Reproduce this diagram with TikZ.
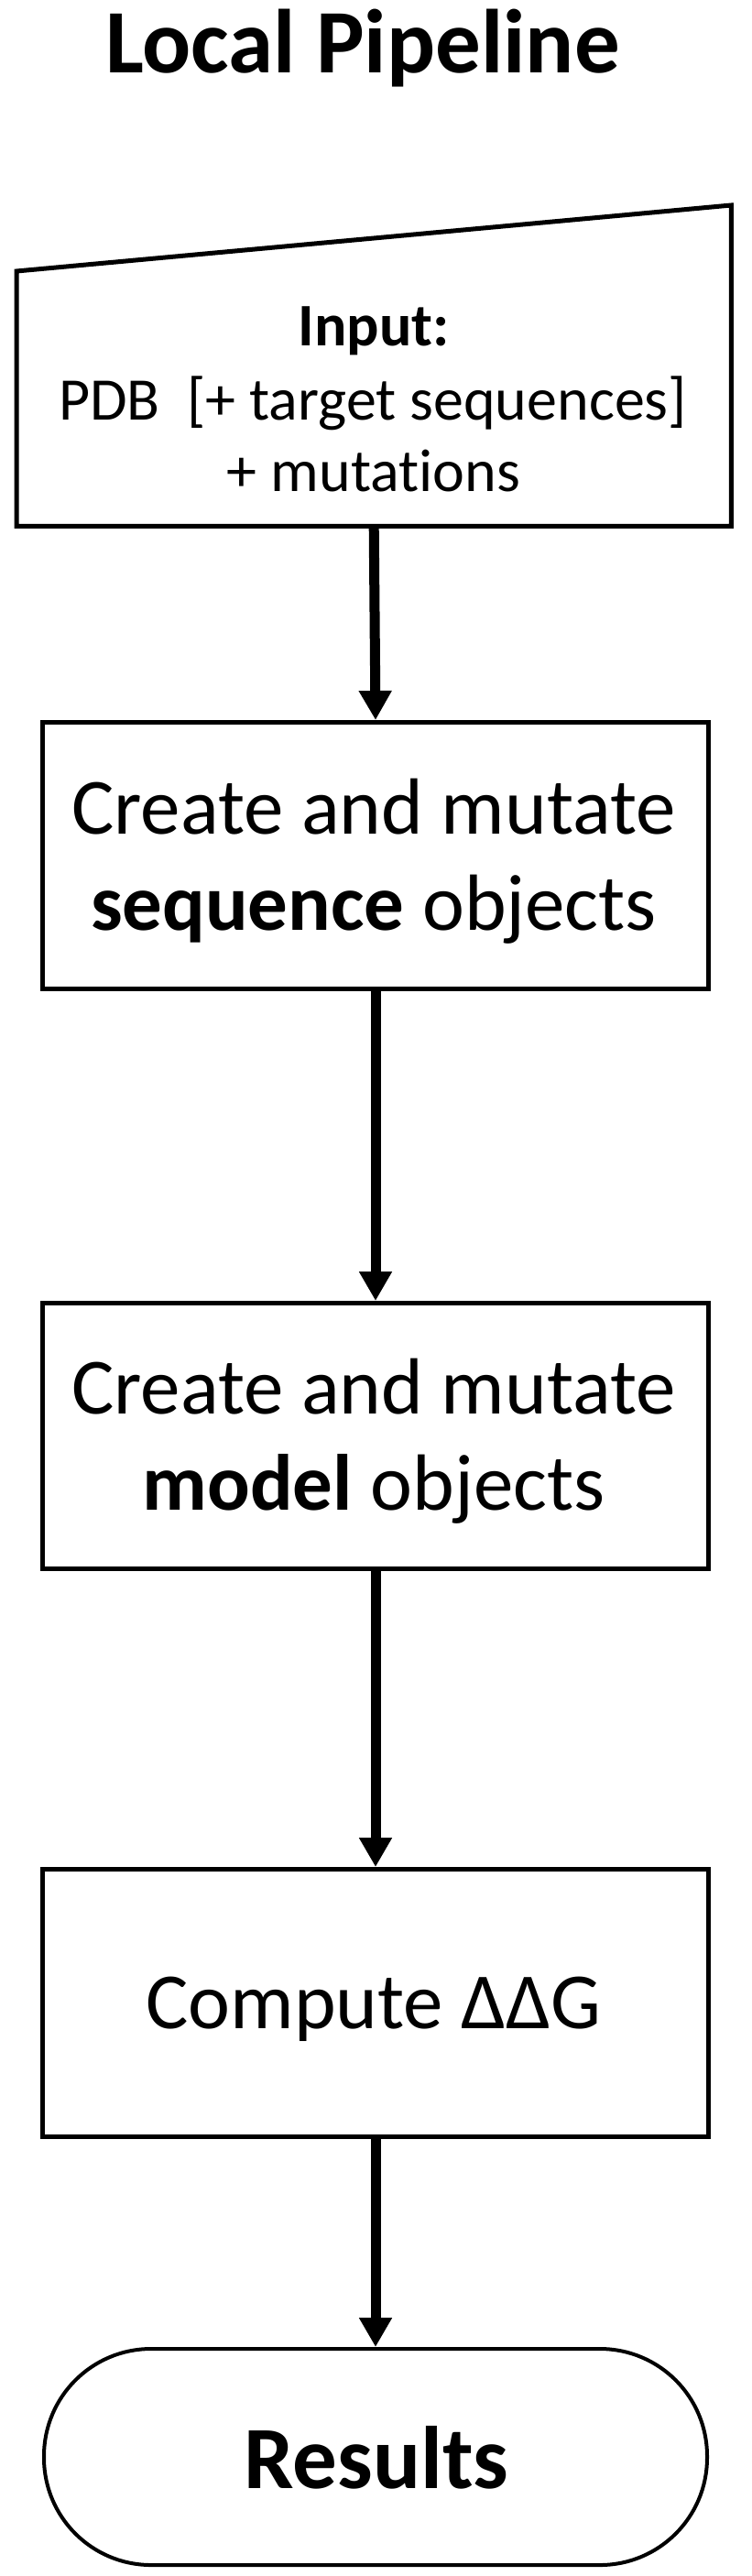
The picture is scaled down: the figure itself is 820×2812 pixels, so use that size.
\documentclass[tikz,border=0pt]{standalone}
\usepackage{fontspec}
\setmainfont{Carlito}[Ligatures=NoCommon]
\usetikzlibrary{arrows.meta}
\begin{document}
\begin{tikzpicture}[x=1pt,y=-1pt,
  boxst/.style={draw, line width=5pt, minimum width=727pt, inner sep=0pt, anchor=north west},
  txt/.style={inner sep=0pt, anchor=base},
  smalltxt/.style={txt, font=\fontsize{66}{80}\selectfont},
  bigtxt/.style={txt, font=\fontsize{87}{105}\selectfont},
  arr/.style={line width=11pt, -{Triangle[width=34pt,length=32pt]}}]
\useasboundingbox (0,0) rectangle (820,2812);
% title
\node[txt, font=\fontsize{99}{120}\selectfont\bfseries] (title) at (396,80) {Local Pipeline};
% input (manual input shape)
\node[inner sep=0pt, minimum width=780pt, minimum height=350pt, anchor=north west] (inp) at (18,224) {};
\draw[line width=5pt, line join=miter] (inp.south west) -- (inp.south east) -- (inp.north east) -- ([yshift=-72pt]inp.north west) -- cycle;
\node[smalltxt, font=\fontsize{66}{80}\selectfont\bfseries] (inp1) at (408,377) {Input:};
\node[smalltxt] (inp2) at (407,458) {PDB\ \ [+ target sequences]};
\node[smalltxt] (inp3) at (408,536) {+ mutations};
% box 2
\node[boxst, minimum height=291pt] (b2) at (44,786) {};
\node[bigtxt] (b2a) at (408,910) {Create and mutate};
\node[bigtxt] (b2b) at (408,1015) {\textbf{sequence} objects};
% box 3
\node[boxst, minimum height=290pt] (b3) at (44,1420) {};
\node[bigtxt] (b3a) at (408,1543) {Create and mutate};
\node[bigtxt] (b3b) at (408,1648) {\textbf{model} objects};
% box 4
\node[boxst, minimum height=292pt] (b4) at (44,2038) {};
\node[bigtxt] (b4a) at (408,2214) {Compute ΔΔG};
% results
\node[draw, line width=4pt, rounded corners=117pt, minimum width=724pt, minimum height=236pt, inner sep=0pt] (res) at (410,2682) {};
\node[txt, font=\fontsize{97}{117}\selectfont\bfseries] (resl) at (411,2716) {Results};
% connectors
\draw[arr] (inp.south) -- (b2.north);
\draw[arr] (b2.south) -- (b3.north);
\draw[arr] (b3.south) -- (b4.north);
\draw[arr] (b4.south) -- (b4.south |- res.north);
\end{tikzpicture}
\end{document}
